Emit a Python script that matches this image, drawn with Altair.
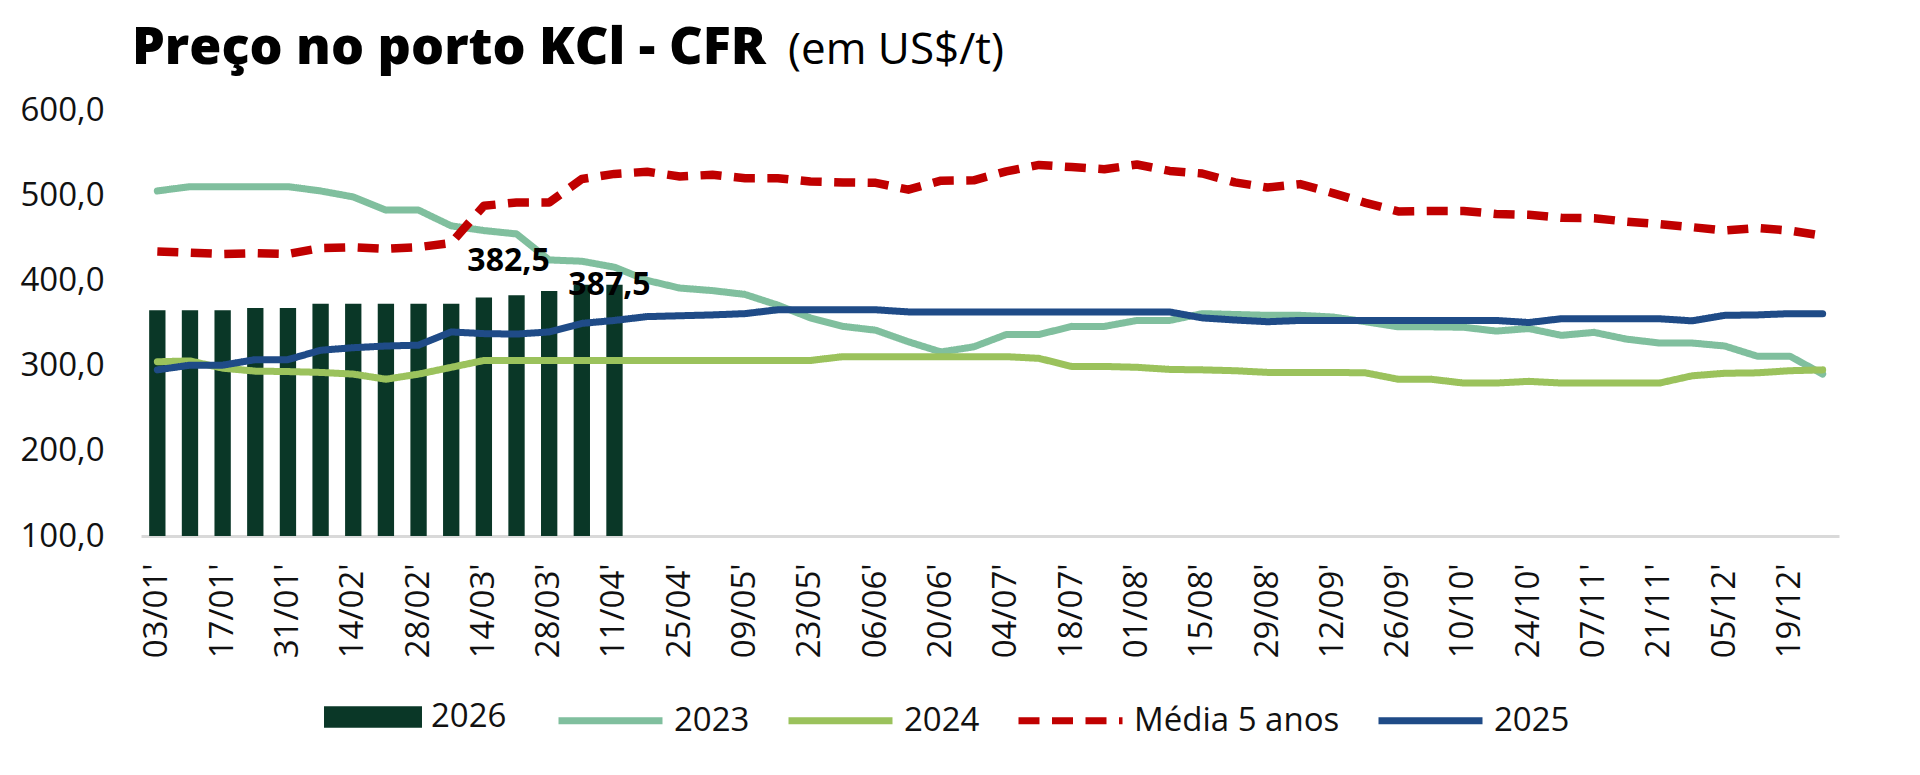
import altair as alt
import pandas as pd

# ---------------- data ----------------
dates = ["03/01", "10/01", "17/01", "24/01", "31/01", "07/02", "14/02", "21/02", "28/02",
         "07/03", "14/03", "21/03", "28/03", "04/04", "11/04", "18/04", "25/04", "02/05",
         "09/05", "16/05", "23/05", "30/05", "06/06", "13/06", "20/06", "27/06", "04/07",
         "11/07", "18/07", "25/07", "01/08", "08/08", "15/08", "22/08", "29/08", "05/09",
         "12/09", "19/09", "26/09", "03/10", "10/10", "17/10", "24/10", "31/10", "07/11",
         "14/11", "21/11", "28/11", "05/12", "12/12", "19/12", "26/12"]

tick_dates = ["03/01", "17/01", "31/01", "14/02", "28/02", "14/03", "28/03", "11/04", "25/04",
              "09/05", "23/05", "06/06", "20/06", "04/07", "18/07", "01/08", "15/08", "29/08",
              "12/09", "26/09", "10/10", "24/10", "07/11", "21/11", "05/12", "19/12"]

y_ticks = [100, 200, 300, 400, 500, 600]

bars_2026 = [365, 365, 365, 367.5, 367.5, 372.5, 372.5, 372.5, 372.5, 372.5, 380, 382.5,
             387.5, 395, 395]

s2023 = [505, 510, 510, 510, 510, 505, 498, 482.5, 482.5, 464, 458.5, 454.5, 424, 422.5,
         415.5, 400, 391, 388, 383.5, 371, 356, 346, 341.5, 328, 316, 322, 336.5, 336.5,
         346, 346, 353, 353, 361, 360, 359, 359, 357, 351.5, 345.5, 345.5, 345, 340.5,
         343.5, 335.5, 339, 331, 326.5, 326.5, 323, 311, 311, 290]

s2024 = [304.5, 305.5, 297, 293.5, 293, 292, 290, 284, 290, 298, 306, 306, 306, 306, 306,
         306, 306, 306, 306, 306, 306, 310.5, 310.5, 310.5, 310.5, 310.5, 310.5, 308.5,
         299, 299, 298, 295.5, 295, 294, 292, 292, 292, 291.5, 284, 284, 279.5, 279.5,
         281.5, 279.5, 279.5, 279.5, 279.5, 288, 291, 291.5, 294, 295]

media5 = [434, 432.5, 431, 432, 431, 438, 439, 437, 439, 444, 487.5, 491.5, 491.5, 519, 525,
          527.5, 522, 524, 520, 520, 516, 515, 514.5, 506.5, 517, 517.5, 528, 535.5, 533,
          530.5, 536, 528.5, 525.5, 515, 509, 513, 502.5, 491, 481, 481.5, 481.5, 478, 477,
          473.5, 473, 469, 466, 462.5, 458.5, 461.5, 458.5, 452.5]

s2025 = [295, 300.5, 300.5, 307, 307, 318, 321, 323, 324, 339.5, 337.5, 337, 339.5, 349.5,
         353, 357.5, 358.5, 359.5, 361, 365.5, 365.5, 365.5, 365.5, 363, 363, 363, 363, 363,
         363, 363, 363, 363, 356, 353.5, 351.5, 353, 353, 353, 353, 353, 353, 353, 350.5,
         355, 355, 355, 355, 352.5, 359, 359.5, 361, 361]

label_dates = ["21/03", "11/04"]
label_values = [382.5, 387.5]

title_text = "Preço no porto KCl - CFR"
subtitle_text = "(em US$/t)"

series_names = ["2023", "2024", "Média 5 anos", "2025"]
series_colors = ["#80bf9e", "#9bc25c", "#c00000", "#1f4b87"]
series_dash = [[1, 0], [1, 0], [21, 12.5], [1, 0]]
bar_name = "2026"
bar_color = "#0a3727"

FONT = "Open Sans"

# ---------------- tables ----------------
rows = []
for name, vals in zip(series_names, [s2023, s2024, media5, s2025]):
    for d, v in zip(dates, vals):
        rows.append({"data": d, "serie": name, "valor": v})
lines_df = pd.DataFrame(rows)

bars_df = pd.DataFrame({"data": dates[:len(bars_2026)], "serie": bar_name, "valor": bars_2026})

labels_df = pd.DataFrame({
    "data": label_dates,
    "valor": label_values,
    "texto": [f"{v:.1f}".replace(".", ",") for v in label_values],
    "idx": list(range(len(label_dates))),
})

# ---------------- encodings ----------------
x_scale = alt.Scale(domain=dates, paddingInner=0.5, paddingOuter=0.25)
x_enc = alt.X(
    "data:N",
    scale=x_scale,
    axis=alt.Axis(values=tick_dates, labelAngle=270, labelAlign="right",
                  labelBaseline="middle", labelExpr="datum.value + \"'\"",
                  labelPadding=27, ticks=False, domainColor="#d9d9d9", domainWidth=3,
                  grid=False, labelOverlap=False),
    title=None,
)
y_enc = alt.Y(
    "valor:Q",
    scale=alt.Scale(domain=[100, 600], nice=False, zero=False),
    axis=alt.Axis(values=y_ticks, labelExpr="replace(format(datum.value, '.1f'), '.', ',')",
                  labelPadding=37, ticks=False, domain=False, grid=False),
    title=None,
)

bars = alt.Chart(bars_df).mark_bar().encode(
    x=x_enc,
    y=y_enc,
    y2=alt.datum(100),
    fill=alt.Fill("serie:N", scale=alt.Scale(domain=[bar_name], range=[bar_color]),
                  legend=alt.Legend(orient="none", legendX=183, legendY=558, title=None,
                                    symbolType="M-1,-0.22L1,-0.22L1,0.22L-1,0.22Z",
                                    symbolSize=9600, symbolStrokeWidth=0,
                                    labelFontSize=33, labelFont=FONT, labelColor="#111111",
                                    labelOffset=9, labelLimit=400)),
)

stroke_scale = alt.Scale(domain=series_names, range=series_colors)
dash_scale = alt.Scale(domain=series_names, range=series_dash)
line_legend = alt.Legend(orient="none", legendX=414, legendY=555, title=None,
                         direction="horizontal", symbolType="stroke", symbolSize=10816,
                         symbolStrokeWidth=7, labelFontSize=33, labelFont=FONT,
                         labelColor="#111111", labelOffset=8, columnPadding=24,
                         labelLimit=400)

line_layers = []
for name in series_names:
    dashed = name == "Média 5 anos"
    line_layers.append(
        alt.Chart(lines_df).transform_filter(alt.datum.serie == name)
        .mark_line(strokeWidth=8.5 if dashed else 7,
                   strokeCap="butt" if dashed else "round", strokeJoin="round")
        .encode(
            x=alt.X("data:N", scale=x_scale),
            y=alt.Y("valor:Q"),
            stroke=alt.Stroke("serie:N", scale=stroke_scale, legend=line_legend),
            strokeDash=alt.StrokeDash("serie:N", scale=dash_scale, legend=line_legend),
        )
    )

label_offsets = [(-8, -24), (-5, 4)]
label_layers = []
for i, (ddx, ddy) in enumerate(label_offsets):
    label_layers.append(
        alt.Chart(labels_df).transform_filter(alt.datum.idx == i)
        .mark_text(font=FONT, fontSize=32, fontWeight="bold", color="#000000",
                   baseline="alphabetic", align="center", dx=ddx, dy=ddy)
        .encode(x=alt.X("data:N"), y=alt.Y("valor:Q"), text="texto:N")
    )

title = alt.Chart(pd.DataFrame({"t": [title_text]})).mark_text(
    font=FONT, fontSize=52, fontWeight=800, color="#000000",
    align="left", baseline="alphabetic",
).encode(text="t:N", x=alt.value(-9), y=alt.value(-46))

subtitle = alt.Chart(pd.DataFrame({"t": [subtitle_text]})).mark_text(
    font=FONT, fontSize=44, fontWeight="normal", color="#000000",
    align="left", baseline="alphabetic",
).encode(text="t:N", x=alt.value(647), y=alt.value(-46))

chart = alt.layer(bars, *line_layers, *label_layers, title, subtitle).properties(
    width=1698,
    height=426,
    padding={"left": 133, "top": 102, "right": 60, "bottom": 225},
    autosize=alt.AutoSizeParams(type="none"),
).configure_view(stroke=None).configure_axis(
    labelFont=FONT, labelFontSize=33, labelColor="#111111"
)

chart.save("out.html", embed_options={"renderer": "svg", "actions": False})
